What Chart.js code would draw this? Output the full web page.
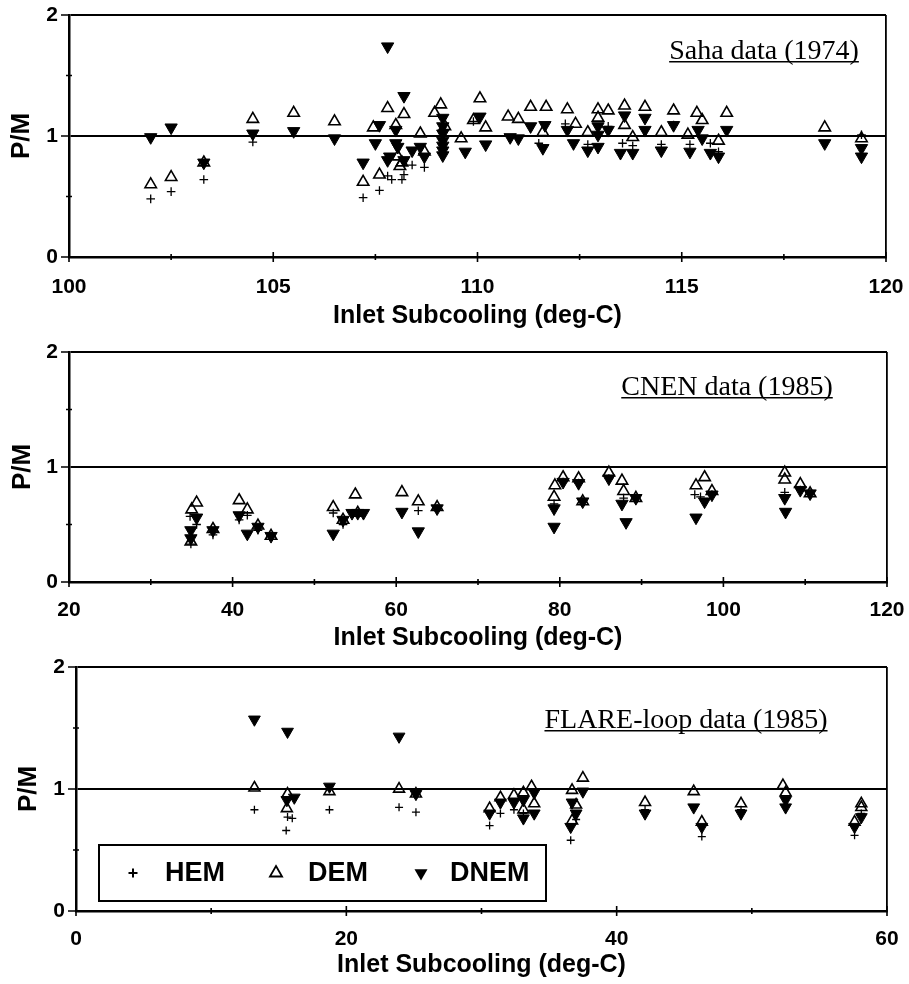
<!DOCTYPE html>
<html>
<head>
<meta charset="utf-8">
<script src="https://cdn.jsdelivr.net/npm/chart.js@4.4.1/dist/chart.umd.min.js"></script>
<style>
  html, body { margin: 0; padding: 0; background: #fff; }
  #wrap { position: relative; width: 909px; height: 984px; overflow: hidden; }
  #wrap canvas { position: absolute; left: 0; }
</style>
</head>
<body>
<div id="wrap">
  <canvas id="saha" width="909" height="331" style="top:0px"></canvas>
  <canvas id="cnen" width="909" height="322" style="top:331px"></canvas>
  <canvas id="flare" width="909" height="331" style="top:653px"></canvas>
</div>
<script>
// --- Saha data (1974): [inlet subcooling, P/M]
const SAHA_HEM = [
  [102.0,0.48],[102.5,0.54],[103.3,0.64],[104.5,0.95],[107.2,0.49],[107.6,0.55],
  [107.8,0.67],[107.9,0.64],[108.15,0.64],[108.2,0.68],[108.4,0.76],[108.7,0.74],
  [109.9,1.12],[111.5,0.94],[112.15,1.10],[112.7,0.93],[113.2,1.08],[113.55,0.94],
  [113.8,0.92],[114.5,0.93],[114.8,1.09],[115.2,0.93],[115.7,0.94],[115.9,0.87],[119.4,1.01]
];
const SAHA_DEM = [
  [102.0,0.60],[102.5,0.66],[103.3,0.78],[104.5,1.14],[105.5,1.19],[106.5,1.12],
  [107.2,0.62],[107.45,1.07],[107.6,0.68],[107.8,1.23],[108.0,1.09],[108.05,0.83],
  [108.1,0.75],[108.15,0.78],[108.2,1.18],[108.6,1.02],[108.7,0.87],[108.95,1.19],
  [109.1,1.26],[109.2,1.08],[109.6,0.98],[109.9,1.13],[110.06,1.31],[110.2,1.07],
  [110.75,1.16],[111.0,1.14],[111.3,1.24],[111.6,1.03],[111.68,1.24],[112.2,1.22],
  [112.4,1.10],[112.7,1.03],[112.95,1.22],[112.95,1.15],[113.2,1.21],[113.6,1.25],
  [113.6,1.09],[113.8,0.99],[114.1,1.24],[114.5,1.03],[114.8,1.21],[115.15,1.01],
  [115.37,1.19],[115.5,1.13],[115.9,0.96],[116.1,1.19],[118.5,1.07],[119.4,0.98]
];
const SAHA_DNEM = [
  [102.0,0.99],[102.5,1.07],[103.3,0.78],[104.5,1.02],[105.5,1.04],[106.5,0.98],
  [107.2,0.78],[107.5,0.94],[107.6,1.09],[107.8,1.74],[107.8,0.80],[107.85,0.83],
  [108.0,1.05],[108.0,0.94],[108.05,0.91],[108.2,1.33],[108.2,0.80],[108.4,0.88],
  [108.6,0.91],[108.7,0.83],[109.15,1.15],[109.15,1.08],[109.15,1.02],[109.15,0.96],
  [109.15,0.92],[109.15,0.88],[109.15,0.84],[109.7,0.87],[110.06,1.16],[110.2,0.93],
  [110.8,0.99],[111.0,0.98],[111.3,1.08],[111.6,0.90],[111.65,1.09],[112.2,1.05],
  [112.35,0.94],[112.7,0.88],[112.95,1.08],[112.95,1.01],[112.95,0.91],[113.2,1.05],
  [113.5,0.86],[113.6,1.17],[113.8,0.86],[114.1,1.15],[114.1,1.05],[114.5,0.88],
  [114.8,1.09],[115.2,0.87],[115.4,1.05],[115.5,0.98],[115.7,0.86],[115.9,0.83],
  [116.1,1.05],[118.5,0.94],[119.4,0.90],[119.4,0.83]
];

// --- CNEN data (1985)
const CNEN_HEM = [
  [34.8,0.57],[35.6,0.50],[34.9,0.33],[37.6,0.41],[40.8,0.54],[41.8,0.58],[43.1,0.45],
  [44.7,0.40],[52.3,0.60],[53.5,0.50],[55.3,0.60],[62.7,0.62],[65.0,0.64],[79.3,0.68],
  [80.4,0.87],[82.3,0.86],[82.8,0.70],[86.0,0.90],[87.8,0.73],[89.3,0.73],[96.5,0.76],
  [97.2,0.74],[98.6,0.76],[107.5,0.78],[109.4,0.80],[110.6,0.77]
];
const CNEN_DEM = [
  [35.0,0.63],[35.6,0.69],[34.9,0.35],[37.6,0.46],[40.8,0.71],[41.8,0.63],[43.1,0.49],
  [44.7,0.40],[52.3,0.65],[53.5,0.54],[55.0,0.76],[55.3,0.60],[60.7,0.78],[62.7,0.70],
  [65.0,0.65],[79.4,0.84],[80.4,0.91],[79.3,0.74],[82.3,0.90],[82.8,0.70],[86.0,0.95],
  [87.6,0.88],[87.8,0.79],[89.3,0.73],[96.65,0.84],[97.7,0.91],[98.6,0.79],[107.5,0.95],
  [107.5,0.89],[109.4,0.85],[110.6,0.77]
];
const CNEN_DNEM = [
  [35.6,0.56],[34.9,0.45],[34.9,0.38],[37.6,0.45],[40.8,0.58],[41.8,0.42],[43.1,0.48],
  [44.7,0.40],[52.3,0.42],[53.5,0.54],[54.6,0.60],[55.3,0.60],[56.0,0.60],[60.7,0.61],
  [62.7,0.44],[65.0,0.64],[80.4,0.87],[79.3,0.64],[79.3,0.48],[82.3,0.86],[82.8,0.70],
  [86.0,0.90],[87.6,0.68],[88.1,0.52],[89.3,0.73],[96.65,0.56],[97.7,0.70],[98.6,0.76],
  [107.5,0.73],[107.6,0.61],[109.4,0.80],[110.6,0.77]
];

// --- FLARE-loop data (1985)
const FLARE_HEM = [
  [13.2,0.83],[15.65,0.77],[16.0,0.76],[15.55,0.66],[18.75,0.83],[23.9,0.85],[25.15,0.81],
  [30.6,0.70],[31.4,0.80],[32.4,0.83],[33.1,0.80],[36.6,0.58],[37.0,0.75],[42.1,0.83],
  [46.3,0.61],[49.2,0.83],[57.6,0.62],[58.1,0.80]
];
const FLARE_DEM = [
  [13.2,1.01],[15.65,0.96],[15.6,0.84],[18.75,0.98],[23.9,1.00],[25.15,0.96],[30.6,0.84],
  [31.4,0.93],[32.4,0.95],[33.1,0.97],[33.1,0.83],[33.7,1.02],[33.9,0.88],[36.7,0.99],
  [36.7,0.74],[37.5,1.09],[37.0,0.87],[42.1,0.89],[45.7,0.98],[46.3,0.73],[49.2,0.88],
  [52.3,1.03],[52.5,0.97],[57.6,0.73],[58.1,0.88],[58.1,0.85]
];
const FLARE_DNEM = [
  [13.2,1.57],[15.65,1.47],[15.6,0.91],[16.15,0.93],[18.75,1.02],[23.9,1.43],[25.15,0.96],
  [30.6,0.80],[31.4,0.89],[32.4,0.89],[33.1,0.91],[33.1,0.76],[33.9,0.97],[33.9,0.80],
  [36.7,0.89],[36.6,0.69],[37.5,0.98],[37.0,0.80],[42.1,0.80],[45.7,0.85],[46.3,0.69],
  [49.2,0.80],[52.5,0.91],[52.5,0.85],[57.6,0.69],[58.1,0.77]
];

const MODELS = ['HEM', 'DEM', 'DNEM'];
const X_TITLE = 'Inlet Subcooling (deg-C)';
const Y_TITLE = 'P/M';
const Y_TICKS_MAJOR = [0, 1, 2];

const SANS = "'Liberation Sans', Arial, Helvetica, sans-serif";
const SERIF = "'Liberation Serif', 'Times New Roman', serif";
const CLEAR = 'rgba(0,0,0,0)';

Chart.defaults.font.family = SANS;
Chart.defaults.color = '#000';

const toPoints = pairs => pairs.map(([x, y]) => ({ x, y }));

function makeDatasets(hem, dem, dnem, r) {
  return [
    { label: MODELS[0], data: toPoints(hem), pointStyle: 'cross', pointRadius: r - 2.3,
      borderColor: '#000', borderWidth: 1.3, backgroundColor: '#000' },
    { label: MODELS[1], data: toPoints(dem), pointStyle: 'triangle', pointRadius: r,
      borderColor: '#000', borderWidth: 1.6, backgroundColor: CLEAR },
    { label: MODELS[2], data: toPoints(dnem), pointStyle: 'triangle', pointRotation: 180,
      pointRadius: r + 0.5, borderColor: '#000', borderWidth: 1, backgroundColor: '#000' },
  ];
}

// tick marks that cross the axis lines, long ones where there is a label
const crossTicks = {
  id: 'crossTicks',
  afterDraw(chart) {
    const { ctx, chartArea: a, scales: { x, y } } = chart;
    ctx.save();
    ctx.strokeStyle = '#000';
    ctx.lineWidth = 1.6;
    ctx.beginPath();
    x.ticks.forEach(t => {
      const px = x.getPixelForValue(t.value);
      const len = t.label !== '' ? 5 : 3;
      ctx.moveTo(px, a.bottom - len);
      ctx.lineTo(px, a.bottom + len);
    });
    y.ticks.forEach(t => {
      const py = y.getPixelForValue(t.value);
      if (t.label !== '') { ctx.moveTo(a.left - 8, py); ctx.lineTo(a.left, py); }
      else { ctx.moveTo(a.left - 3, py); ctx.lineTo(a.left + 3, py); }
    });
    ctx.stroke();
    ctx.restore();
  }
};

// underlined data-source note in the upper right
const panelNote = {
  id: 'panelNote',
  afterDraw(chart, args, opts) {
    if (!opts.text) return;
    const { ctx, chartArea: a } = chart;
    ctx.save();
    ctx.font = '28px ' + SERIF;
    ctx.fillStyle = '#000';
    ctx.textAlign = 'center';
    ctx.textBaseline = 'alphabetic';
    const cx = a.right - opts.fromRight;
    const by = a.top + opts.fromTop;
    ctx.fillText(opts.text, cx, by);
    const w = ctx.measureText(opts.text).width;
    ctx.fillRect(cx - w / 2, by + 2, w, 1.5);
    ctx.restore();
  }
};

function marker(ctx, style, x, y) {
  ctx.beginPath();
  if (style === 'cross') {
    ctx.lineWidth = 2;
    ctx.moveTo(x - 4.5, y); ctx.lineTo(x + 4.5, y);
    ctx.moveTo(x, y - 4.5); ctx.lineTo(x, y + 4.5);
    ctx.stroke();
    return;
  }
  const down = style === 'down' ? -1 : 1;
  const r = style === 'down' ? 7.5 : 7;
  for (let k = 0; k < 3; k++) {
    const ang = k * 2 * Math.PI / 3;
    const px = x + Math.sin(ang) * r;
    const py = y - down * Math.cos(ang) * r;
    k ? ctx.lineTo(px, py) : ctx.moveTo(px, py);
  }
  ctx.closePath();
  ctx.lineWidth = 1.8;
  if (style === 'down') ctx.fill(); else ctx.stroke();
}

// boxed legend sitting inside the lower-left of the FLARE panel
const boxLegend = {
  id: 'boxLegend',
  afterDraw(chart, args, opts) {
    if (!opts.show) return;
    const { ctx, chartArea: a } = chart;
    const left = a.left + 23, top = a.bottom - 66, w = 447, h = 56;
    ctx.save();
    ctx.fillStyle = '#fff';
    ctx.fillRect(left, top, w, h);
    ctx.strokeStyle = '#000';
    ctx.fillStyle = '#000';
    ctx.lineWidth = 2;
    ctx.strokeRect(left, top, w, h);
    const cy = top + 28;
    const items = [
      { style: 'cross', mx: 34, tx: 66 },
      { style: 'up', mx: 177, tx: 209 },
      { style: 'down', mx: 322, tx: 351 },
    ];
    items.forEach((it, i) => {
      marker(ctx, it.style, left + it.mx, cy);
      ctx.font = 'bold 27px ' + SANS;
      ctx.textAlign = 'left';
      ctx.textBaseline = 'middle';
      ctx.fillText(MODELS[i], left + it.tx, cy + 1);
    });
    ctx.restore();
  }
};

function makeChart(id, datasets, p) {
  return new Chart(document.getElementById(id), {
    type: 'scatter',
    data: { datasets },
    plugins: [crossTicks, panelNote, boxLegend],
    options: {
      responsive: false,
      animation: false,
      events: [],
      layout: { padding: { top: p.padTop, right: p.padRight, left: 0, bottom: 0 } },
      plugins: {
        legend: { display: false },
        tooltip: { enabled: false },
        panelNote: { text: p.note, fromRight: p.noteRight, fromTop: p.noteTop },
        boxLegend: { show: !!p.legend },
      },
      scales: {
        x: {
          type: 'linear', min: p.xMin, max: p.xMax,
          afterFit: s => { s.height = p.xAxisH; },
          ticks: {
            stepSize: p.xStep, autoSkip: false, maxRotation: 0, padding: 0,
            font: { size: 21, weight: 'bold' }, color: '#000',
            callback: v => (v % p.xLabelStep === 0 ? String(v) : ''),
          },
          // invisible tick marks only set the gap between axis and labels
          grid: {
            drawTicks: true, tickLength: p.xPad, tickColor: CLEAR, lineWidth: 1.8,
            color: c => (c.tick && c.tick.value === p.xMax ? '#000' : CLEAR),
          },
          border: { color: '#000', width: 2.5 },
          title: {
            display: true, text: X_TITLE, color: '#000',
            font: { size: 25, weight: 'bold' }, padding: { top: 0, bottom: p.titlePad },
          },
        },
        y: {
          type: 'linear', min: 0, max: 2,
          afterFit: s => { s.width = p.yAxisW; },
          ticks: {
            stepSize: 0.5, autoSkip: false, padding: 0,
            font: { size: 21, weight: 'bold' }, color: '#000',
            callback: v => (Y_TICKS_MAJOR.includes(v) ? String(v) : ''),
          },
          grid: {
            drawTicks: true, tickLength: p.yPad, tickColor: CLEAR, lineWidth: 2,
            color: c => (c.tick && (c.tick.value === 1 || c.tick.value === 2) ? '#000' : CLEAR),
          },
          border: { color: '#000', width: 2.5 },
          title: {
            display: true, text: Y_TITLE, color: '#000',
            font: { size: 26, weight: 'bold' }, padding: { top: p.yTitlePad, bottom: 0 },
          },
        },
      },
    },
  });
}

makeChart('saha', makeDatasets(SAHA_HEM, SAHA_DEM, SAHA_DNEM, 6.6), {
  padTop: 15, padRight: 23, yAxisW: 69, xAxisH: 74, xMin: 100, xMax: 120, xStep: 2.5,
  xLabelStep: 5, xPad: 18, yPad: 11, titlePad: 0, yTitlePad: 6,
  note: 'Saha data (1974)', noteRight: 122, noteTop: 44,
});

makeChart('cnen', makeDatasets(CNEN_HEM, CNEN_DEM, CNEN_DNEM, 6.6), {
  padTop: 21, padRight: 22, yAxisW: 69, xAxisH: 71, xMin: 20, xMax: 120, xStep: 10,
  xLabelStep: 20, xPad: 16, yPad: 11, titlePad: 0, yTitlePad: 7,
  note: 'CNEN data (1985)', noteRight: 160, noteTop: 43,
});

makeChart('flare', makeDatasets(FLARE_HEM, FLARE_DEM, FLARE_DNEM, 6.3), {
  padTop: 14, padRight: 22, yAxisW: 76, xAxisH: 73, xMin: 0, xMax: 60, xStep: 10,
  xLabelStep: 20, xPad: 16, yPad: 11, titlePad: 4, yTitlePad: 13,
  note: 'FLARE-loop data (1985)', noteRight: 201, noteTop: 61, legend: true,
});
</script>
</body>
</html>
